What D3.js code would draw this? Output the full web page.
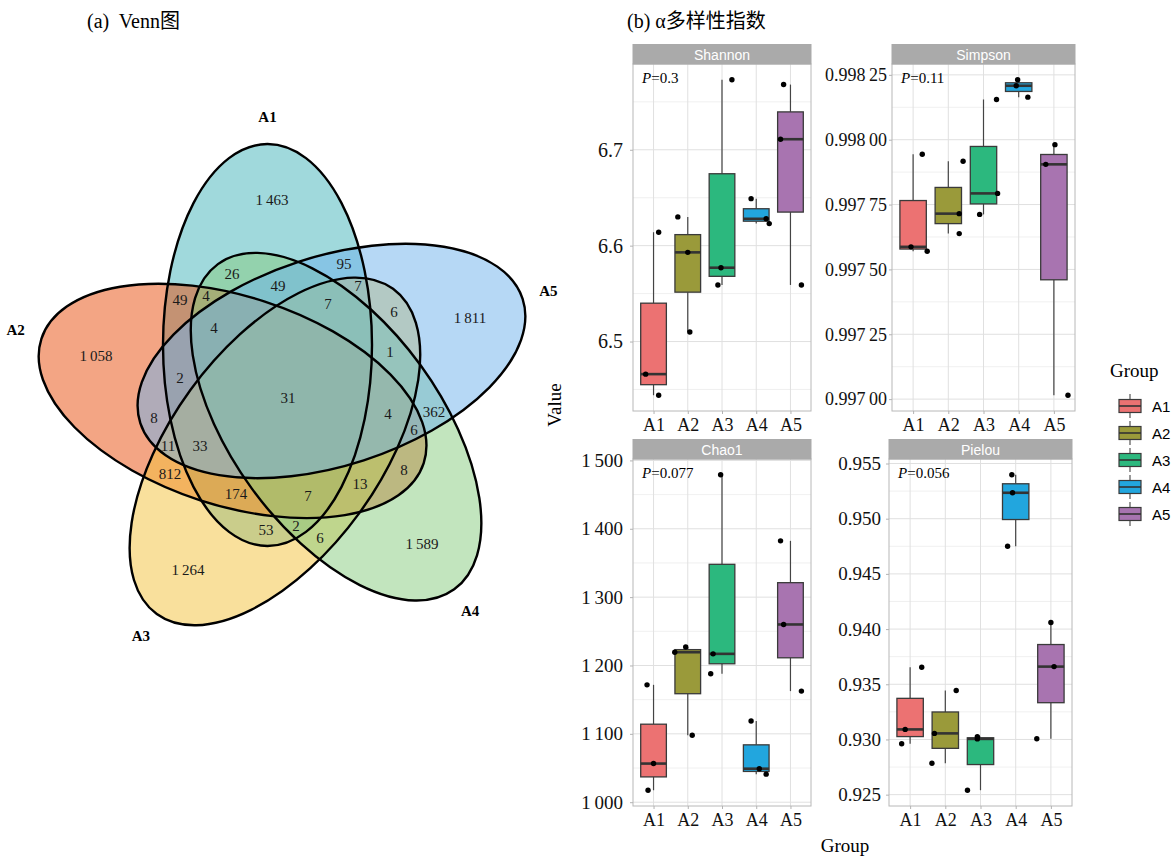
<!DOCTYPE html>
<html>
<head>
<meta charset="utf-8">
<script src="https://cdn.jsdelivr.net/npm/d3@7"></script>
<style>
  body { margin: 0; background: #fff; }
  svg text { font-family: "Liberation Serif", "Times New Roman", "Noto Sans CJK SC", serif; }
</style>
</head>
<body>
<svg id="fig" width="1172" height="858"></svg>
<script>
// ---------- data ----------
var groups = ['A1', 'A2', 'A3', 'A4', 'A5'];
var groupColors = ['#EC7272', '#9A9A3A', '#2CB87E', '#22A6DE', '#A874B0'];

// venn fills (drawn at 50% opacity), same order as groups
var vennFills = ['#42B4B9', '#E84C0A', '#F3C13A', '#86CB7E', '#6EB2EB'];
var vennRegions = [
  ['A1', 1463], ['A2', 1058], ['A3', 1264], ['A4', 1589], ['A5', 1811],
  ['A1,A2', 49], ['A1,A3', 53], ['A1,A4', 26], ['A1,A5', 95], ['A2,A3', 812],
  ['A2,A4', 8], ['A2,A5', 8], ['A3,A4', 6], ['A3,A5', 6], ['A4,A5', 362],
  ['A1,A2,A3', 174], ['A1,A2,A4', 4], ['A1,A2,A5', 2], ['A1,A3,A4', 2], ['A1,A3,A5', 7],
  ['A1,A4,A5', 49], ['A2,A3,A4', 13], ['A2,A3,A5', 11], ['A2,A4,A5', 6], ['A3,A4,A5', 1],
  ['A1,A2,A3,A4', 7], ['A1,A2,A3,A5', 33], ['A1,A2,A4,A5', 4], ['A1,A3,A4,A5', 7], ['A2,A3,A4,A5', 4],
  ['A1,A2,A3,A4,A5', 31]
];

// alpha diversity, three samples per group
var shannon = [[6.614, 6.466, 6.444], [6.630, 6.593, 6.510], [6.773, 6.577, 6.559], [6.649, 6.628, 6.623], [6.768, 6.711, 6.559]];
var simpson = [[0.997944, 0.997587, 0.997570], [0.997917, 0.997715, 0.997638], [0.998155, 0.997793, 0.997712], [0.998231, 0.998208, 0.998164], [0.997981, 0.997905, 0.997015]];
var chao1 = [[1171.7, 1056.5, 1017.5], [1219.4, 1227, 1098], [1479, 1217, 1188], [1118.8, 1049, 1041], [1382.3, 1260, 1162.5]];
var pielou = [[0.93654, 0.93091, 0.92961], [0.93443, 0.93055, 0.92784], [0.93025, 0.93005, 0.92540], [0.95398, 0.95235, 0.94750], [0.94060, 0.93660, 0.93006]];

// horizontal jitter of the points, in category steps
var shannonJitter = [[0.15, -0.23, 0.15], [-0.29, 0, 0.06], [0.29, -0.03, -0.12], [-0.15, 0.29, 0.38], [-0.2, -0.29, 0.32]];
var simpsonJitter = [[0.26, -0.06, 0.4], [0.42, 0.31, 0.31], [0.37, 0.4, -0.11], [-0.03, -0.07, 0.26], [0.03, -0.23, 0.4]];
var chao1Jitter = [[-0.19, 0, -0.16], [-0.38, -0.06, 0.13], [-0.04, -0.26, -0.33], [-0.15, 0.09, 0.29], [-0.29, -0.2, 0.32]];
var pielouJitter = [[0.33, -0.14, -0.24], [0.31, -0.31, -0.38], [-0.09, -0.09, -0.37], [-0.11, -0.09, -0.23], [0, 0.09, -0.4]];

var indexNames = ['Shannon', 'Simpson', 'Chao1', 'Pielou'];
var pValues = ['0.3', '0.11', '0.077', '0.056'];

// ---------- helpers ----------
var svg = d3.select('#fig');
var numFmt = d3.formatLocale({decimal: '.', thousands: '\u2009', grouping: [3], currency: ['', '']}).format(',d');
function fmtSimpson(v) {
  var s = v.toFixed(5);
  return s.slice(0, s.length - 2) + '\u2009' + s.slice(-2);
}

// ---------- titles ----------
svg.append('text').attr('x', 87).attr('y', 28).attr('font-size', 20).text('(a)\u00a0 Venn图');
svg.append('text').attr('x', 627).attr('y', 28).attr('font-size', 20).text('(b) α多样性指数');

// ---------- (a) Venn ----------
var vennC = [288.5, 397], vennOff = [-21, -52], vennA = 104.5, vennB = 201;

var ell = groups.map(function(name, i) {
  var k = (5 - i) % 5, th = k * 72, r = th * Math.PI / 180;
  var c = Math.cos(r), s = Math.sin(r);
  return {
    name: name, bit: 1 << i, angle: th, cos: c, sin: s,
    cx: vennC[0] + vennOff[0] * c - vennOff[1] * s,
    cy: vennC[1] + vennOff[0] * s + vennOff[1] * c,
    fill: vennFills[i]
  };
});

function inEll(e, x, y) {
  var dx = x - e.cx, dy = y - e.cy;
  var lx = dx * e.cos + dy * e.sin, ly = -dx * e.sin + dy * e.cos;
  return (lx * lx) / (vennA * vennA) + (ly * ly) / (vennB * vennB) <= 1;
}

var gv = svg.append('g');
gv.selectAll('ellipse.fill').data(ell).join('ellipse')
  .attr('class', 'fill')
  .attr('cx', function(d) { return d.cx; })
  .attr('cy', function(d) { return d.cy; })
  .attr('rx', vennA).attr('ry', vennB)
  .attr('transform', function(d) { return 'rotate(' + d.angle + ',' + d.cx + ',' + d.cy + ')'; })
  .attr('fill', function(d) { return d.fill; })
  .attr('fill-opacity', 0.5);
gv.selectAll('ellipse.edge').data(ell).join('ellipse')
  .attr('class', 'edge')
  .attr('cx', function(d) { return d.cx; })
  .attr('cy', function(d) { return d.cy; })
  .attr('rx', vennA).attr('ry', vennB)
  .attr('transform', function(d) { return 'rotate(' + d.angle + ',' + d.cx + ',' + d.cy + ')'; })
  .attr('fill', 'none').attr('stroke', '#000').attr('stroke-width', 2.4);

// find a label spot for each region: the point farthest from its edges
var gx0 = 0, gy0 = 100, gs = 2, nx = 300, ny = 300;
var codes = new Uint8Array(nx * ny);
for (var j = 0; j < ny; j++) {
  for (var i = 0; i < nx; i++) {
    var code = 0;
    ell.forEach(function(e) { if (inEll(e, gx0 + i * gs, gy0 + j * gs)) code |= e.bit; });
    codes[j * nx + i] = code;
  }
}
function pole(code) {
  var d = new Float32Array(nx * ny), idx, v, i, j;
  for (idx = 0; idx < nx * ny; idx++) d[idx] = codes[idx] === code ? 1e6 : 0;
  for (j = 0; j < ny; j++) for (i = 0; i < nx; i++) {
    idx = j * nx + i; if (!d[idx]) continue;
    v = d[idx];
    if (i === 0 || j === 0) v = 1;
    else {
      v = Math.min(v, d[idx - 1] + 1, d[idx - nx] + 1, d[idx - nx - 1] + 1.414);
      if (i < nx - 1) v = Math.min(v, d[idx - nx + 1] + 1.414);
    }
    d[idx] = v;
  }
  var best = -1, bi = 0;
  for (j = ny - 1; j >= 0; j--) for (i = nx - 1; i >= 0; i--) {
    idx = j * nx + i; if (!d[idx]) continue;
    v = d[idx];
    if (i === nx - 1 || j === ny - 1) v = 1;
    else {
      v = Math.min(v, d[idx + 1] + 1, d[idx + nx] + 1, d[idx + nx + 1] + 1.414);
      if (i > 0) v = Math.min(v, d[idx + nx - 1] + 1.414);
    }
    d[idx] = v;
    if (v > best) { best = v; bi = idx; }
  }
  return [gx0 + (bi % nx) * gs, gy0 + Math.floor(bi / nx) * gs];
}

var regionData = vennRegions.map(function(r) {
  var code = 0;
  r[0].split(',').forEach(function(n) { code |= 1 << groups.indexOf(n); });
  return {code: code, count: r[1], pos: pole(code)};
});

gv.selectAll('text.count').data(regionData).join('text')
  .attr('class', 'count')
  .attr('x', function(d) { return d.pos[0]; })
  .attr('y', function(d) { return d.pos[1]; })
  .attr('text-anchor', 'middle').attr('dominant-baseline', 'central')
  .attr('font-size', 15).attr('fill', '#1a1a1a')
  .text(function(d) { return numFmt(d.count); });

gv.selectAll('text.setname').data(ell).join('text')
  .attr('class', 'setname')
  .attr('x', function(d) { return d.cx + (vennB + 27) * d.sin; })
  .attr('y', function(d) { return d.cy - (vennB + 27) * d.cos; })
  .attr('text-anchor', 'middle').attr('dominant-baseline', 'central')
  .attr('font-size', 15).attr('font-weight', 'bold')
  .text(function(d) { return d.name; });

// ---------- (b) boxplots ----------
var panels = [
  {values: shannon, jitter: shannonJitter, x0: 633, x1: 811, y0: 64, y1: 411, step: 0.1, fmt: d3.format('.1f'), gap: 7, fs: 20},
  {values: simpson, jitter: simpsonJitter, x0: 892, x1: 1075, y0: 64, y1: 411, step: 0.00025, fmt: fmtSimpson, gap: 2, fs: 18},
  {values: chao1, jitter: chao1Jitter, x0: 633, x1: 811, y0: 459, y1: 806, step: 100, fmt: numFmt, gap: 7, fs: 19},
  {values: pielou, jitter: pielouJitter, x0: 889, x1: 1072, y0: 459, y1: 806, step: 0.005, fmt: d3.format('.3f'), gap: 5, fs: 19}
];

panels.forEach(function(p, pi) {
  var g = svg.append('g');
  var x = d3.scalePoint().domain(groups).range([p.x0, p.x1]).padding(0.6);
  var ext = d3.extent(d3.merge(p.values));
  var pad = (ext[1] - ext[0]) * 0.05;
  var y = d3.scaleLinear().domain([ext[0] - pad, ext[1] + pad]).range([p.y1, p.y0]);
  var lo = y.domain()[0], hi = y.domain()[1];
  var major = d3.range(Math.ceil(lo / p.step - 1e-9), Math.floor(hi / p.step + 1e-9) + 1).map(function(k) { return k * p.step; });
  var minor = d3.range(Math.floor(lo / p.step), Math.ceil(hi / p.step) + 1)
    .map(function(k) { return (k + 0.5) * p.step; })
    .filter(function(v) { return v > lo && v < hi; });

  g.selectAll('line.minor').data(minor).join('line')
    .attr('x1', p.x0).attr('x2', p.x1)
    .attr('y1', function(d) { return y(d); }).attr('y2', function(d) { return y(d); })
    .attr('stroke', '#ececec').attr('stroke-width', 0.8);
  g.selectAll('line.hmajor').data(major).join('line')
    .attr('x1', p.x0).attr('x2', p.x1)
    .attr('y1', function(d) { return y(d); }).attr('y2', function(d) { return y(d); })
    .attr('stroke', '#e0e0e0').attr('stroke-width', 1);
  g.selectAll('line.vmajor').data(groups).join('line')
    .attr('y1', p.y0).attr('y2', p.y1)
    .attr('x1', function(d) { return x(d); }).attr('x2', function(d) { return x(d); })
    .attr('stroke', '#e0e0e0').attr('stroke-width', 1);

  var bw = x.step() * 0.75;
  var stats = p.values.map(function(vals, i) {
    var s = vals.slice().sort(d3.ascending);
    var q1 = d3.quantile(s, 0.25), med = d3.quantile(s, 0.5), q3 = d3.quantile(s, 0.75);
    var iqr = q3 - q1;
    return {
      g: groups[i], color: groupColors[i], q1: q1, med: med, q3: q3,
      lo: d3.min(s.filter(function(v) { return v >= q1 - 1.5 * iqr; })),
      hi: d3.max(s.filter(function(v) { return v <= q3 + 1.5 * iqr; }))
    };
  });
  var box = g.selectAll('g.box').data(stats).join('g').attr('class', 'box');
  box.append('line')
    .attr('x1', function(d) { return x(d.g); }).attr('x2', function(d) { return x(d.g); })
    .attr('y1', function(d) { return y(d.hi); }).attr('y2', function(d) { return y(d.q3); })
    .attr('stroke', '#444').attr('stroke-width', 1.2);
  box.append('line')
    .attr('x1', function(d) { return x(d.g); }).attr('x2', function(d) { return x(d.g); })
    .attr('y1', function(d) { return y(d.q1); }).attr('y2', function(d) { return y(d.lo); })
    .attr('stroke', '#444').attr('stroke-width', 1.2);
  box.append('rect')
    .attr('x', function(d) { return x(d.g) - bw / 2; }).attr('width', bw)
    .attr('y', function(d) { return y(d.q3); })
    .attr('height', function(d) { return Math.max(0.5, y(d.q1) - y(d.q3)); })
    .attr('fill', function(d) { return d.color; })
    .attr('stroke', '#3a3a3a').attr('stroke-width', 1.3);
  box.append('line')
    .attr('x1', function(d) { return x(d.g) - bw / 2; }).attr('x2', function(d) { return x(d.g) + bw / 2; })
    .attr('y1', function(d) { return y(d.med); }).attr('y2', function(d) { return y(d.med); })
    .attr('stroke', '#333').attr('stroke-width', 2.6);

  var pts = [];
  p.values.forEach(function(vals, i) {
    vals.forEach(function(v, k) { pts.push({g: groups[i], v: v, j: p.jitter[i][k]}); });
  });
  g.selectAll('circle.pt').data(pts).join('circle')
    .attr('cx', function(d) { return x(d.g) + d.j * x.step(); })
    .attr('cy', function(d) { return y(d.v); })
    .attr('r', 2.7).attr('fill', '#000');

  // panel border and strip
  g.append('rect').attr('x', p.x0).attr('y', p.y0).attr('width', p.x1 - p.x0).attr('height', p.y1 - p.y0)
    .attr('fill', 'none').attr('stroke', '#b8b8b8').attr('stroke-width', 1);
  g.append('rect').attr('x', p.x0).attr('y', p.y0 - 19.5).attr('width', p.x1 - p.x0).attr('height', 19.5)
    .attr('fill', '#aaaaaa').attr('stroke', '#aaaaaa').attr('stroke-width', 1);
  g.append('text').attr('x', (p.x0 + p.x1) / 2).attr('y', p.y0 - 9.5)
    .attr('text-anchor', 'middle').attr('dominant-baseline', 'central')
    .style('font-family', '"Liberation Sans", Arial, sans-serif')
    .attr('font-size', 14).attr('fill', '#fff')
    .text(indexNames[pi]);

  var pt = g.append('text').attr('x', p.x0 + 9).attr('y', p.y0 + 19).attr('font-size', 15);
  pt.append('tspan').attr('font-style', 'italic').text('P');
  pt.append('tspan').text('=' + pValues[pi]);

  // axes
  var ay = g.append('g').attr('transform', 'translate(' + p.x0 + ',0)')
    .call(d3.axisLeft(y).tickValues(major).tickFormat(p.fmt).tickSize(3).tickPadding(p.gap));
  ay.select('.domain').remove();
  ay.selectAll('line').attr('stroke', '#b3b3b3');
  ay.selectAll('text').attr('font-size', p.fs).attr('fill', '#111')
    .style('font-family', '"Liberation Serif", serif');

  var ax = g.append('g').attr('transform', 'translate(0,' + p.y1 + ')')
    .call(d3.axisBottom(x).tickSize(3).tickPadding(4));
  ax.select('.domain').remove();
  ax.selectAll('line').attr('stroke', '#b3b3b3');
  ax.selectAll('text').attr('font-size', 18).attr('fill', '#111')
    .style('font-family', '"Liberation Serif", serif');
});

// axis titles
svg.append('text').attr('transform', 'translate(561,405) rotate(-90)')
  .attr('text-anchor', 'middle').attr('font-size', 19).text('Value');
svg.append('text').attr('x', 845).attr('y', 852)
  .attr('text-anchor', 'middle').attr('font-size', 19).text('Group');

// legend
var lg = svg.append('g');
lg.append('text').attr('x', 1110).attr('y', 377).attr('font-size', 19).text('Group');
var key = lg.selectAll('g.key').data(groups).join('g').attr('class', 'key')
  .attr('transform', function(d, i) { return 'translate(1130,' + (406 + i * 27) + ')'; });
key.append('line').attr('y1', -12).attr('y2', 12).attr('stroke', '#444').attr('stroke-width', 1.1);
key.append('rect').attr('x', -11).attr('y', -6.5).attr('width', 22).attr('height', 13)
  .attr('fill', function(d, i) { return groupColors[i]; })
  .attr('stroke', '#3a3a3a').attr('stroke-width', 1.2);
key.append('line').attr('x1', -11).attr('x2', 11).attr('stroke', '#333').attr('stroke-width', 1.6);
key.append('text').attr('x', 22).attr('dominant-baseline', 'central')
  .style('font-family', '"Liberation Sans", Arial, sans-serif')
  .attr('font-size', 15).text(function(d) { return d; });
</script>
</body>
</html>
